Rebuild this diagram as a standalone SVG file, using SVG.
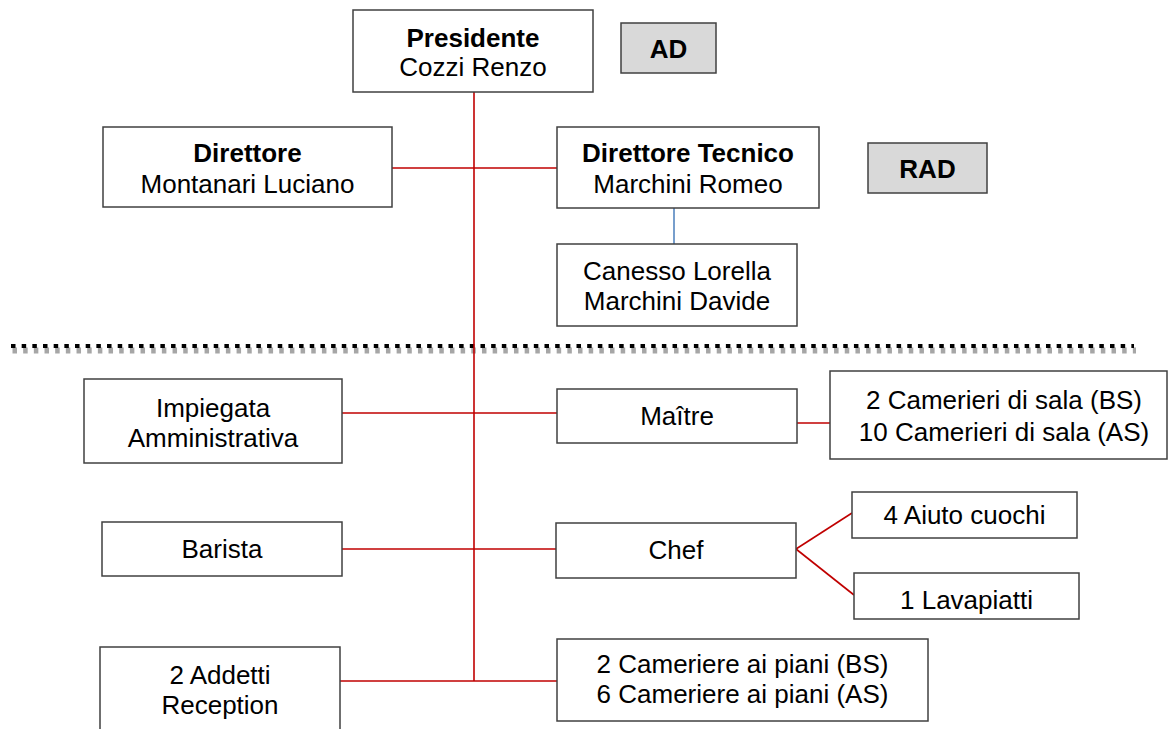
<svg xmlns="http://www.w3.org/2000/svg" width="1171" height="729" viewBox="0 0 1171 729">
<style>
.box{fill:#ffffff;stroke:#404040;stroke-width:1.5}
.grey{fill:#d9d9d9;stroke:#404040;stroke-width:1.5}
.t{font-family:"Liberation Sans",Arial,sans-serif;font-size:26px;fill:#000;text-anchor:middle}
.b{font-weight:bold}
.red{stroke:#c00000;stroke-width:1.6;fill:none}
.blue{stroke:#4a7ebb;stroke-width:1.5;fill:none}
</style>
<rect width="1171" height="729" fill="#ffffff"/>
<g id="separator">
<line x1="12.5" y1="350.5" x2="1136" y2="350.5" stroke="#a6a6a6" stroke-width="6" stroke-dasharray="4.5 6.17"/>
<line x1="11" y1="346" x2="1134" y2="346" stroke="#000" stroke-width="4" stroke-dasharray="4.5 6.17"/>
</g>
<g id="connectors">
<line class="red" x1="474" y1="92" x2="474" y2="681"/>
<line class="red" x1="392" y1="168" x2="557" y2="168"/>
<line class="blue" x1="674" y1="208" x2="674" y2="244"/>
<line class="red" x1="342" y1="413" x2="557" y2="413"/>
<line class="red" x1="797" y1="423" x2="830" y2="423"/>
<line class="red" x1="342" y1="549" x2="556" y2="549"/>
<line class="red" x1="796" y1="549" x2="852" y2="513"/>
<line class="red" x1="796" y1="549" x2="854" y2="595"/>
<line class="red" x1="340" y1="681" x2="557" y2="681"/>
</g>
<g id="presidente">
<rect class="box" x="353" y="10" width="240" height="82"/>
<text class="t b" x="473" y="47">Presidente</text>
<text class="t" x="473" y="76">Cozzi Renzo</text>
</g>
<g id="ad">
<rect class="grey" x="621" y="23" width="95" height="50"/>
<text class="t b" x="668.5" y="58">AD</text>
</g>
<g id="direttore">
<rect class="box" x="103" y="127" width="289" height="80"/>
<text class="t b" x="247.5" y="162">Direttore</text>
<text class="t" x="247.5" y="193">Montanari Luciano</text>
</g>
<g id="direttore-tecnico">
<rect class="box" x="557" y="127" width="262" height="81"/>
<text class="t b" x="688" y="162">Direttore Tecnico</text>
<text class="t" x="688" y="193">Marchini Romeo</text>
</g>
<g id="rad">
<rect class="grey" x="868" y="143" width="119" height="50"/>
<text class="t b" x="927.5" y="178">RAD</text>
</g>
<g id="canesso">
<rect class="box" x="557" y="244" width="240" height="82"/>
<text class="t" x="677" y="280">Canesso Lorella</text>
<text class="t" x="677" y="310">Marchini Davide</text>
</g>
<g id="impiegata">
<rect class="box" x="84" y="379" width="258" height="84"/>
<text class="t" x="213" y="417">Impiegata</text>
<text class="t" x="213" y="447">Amministrativa</text>
</g>
<g id="maitre">
<rect class="box" x="557" y="389" width="240" height="54"/>
<text class="t" x="677" y="425">Maître</text>
</g>
<g id="camerieri-sala">
<rect class="box" x="830" y="371" width="337" height="88"/>
<text class="t" x="1004" y="409">2 Camerieri di sala (BS)</text>
<text class="t" x="1004" y="441">10 Camerieri di sala (AS)</text>
</g>
<g id="barista">
<rect class="box" x="102" y="522" width="240" height="54"/>
<text class="t" x="222" y="558">Barista</text>
</g>
<g id="chef">
<rect class="box" x="556" y="523" width="240" height="55"/>
<text class="t" x="676" y="559">Chef</text>
</g>
<g id="aiuto-cuochi">
<rect class="box" x="852" y="492" width="225" height="46"/>
<text class="t" x="964.5" y="524">4 Aiuto cuochi</text>
</g>
<g id="lavapiatti">
<rect class="box" x="854" y="573" width="225" height="46"/>
<text class="t" x="966.5" y="609">1 Lavapiatti</text>
</g>
<g id="addetti-reception">
<rect class="box" x="100" y="647" width="240" height="95"/>
<text class="t" x="220" y="684">2 Addetti</text>
<text class="t" x="220" y="714">Reception</text>
</g>
<g id="cameriere-piani">
<rect class="box" x="557" y="639" width="371" height="82"/>
<text class="t" x="742.5" y="673">2 Cameriere ai piani (BS)</text>
<text class="t" x="742.5" y="703">6 Cameriere ai piani (AS)</text>
</g>
</svg>
